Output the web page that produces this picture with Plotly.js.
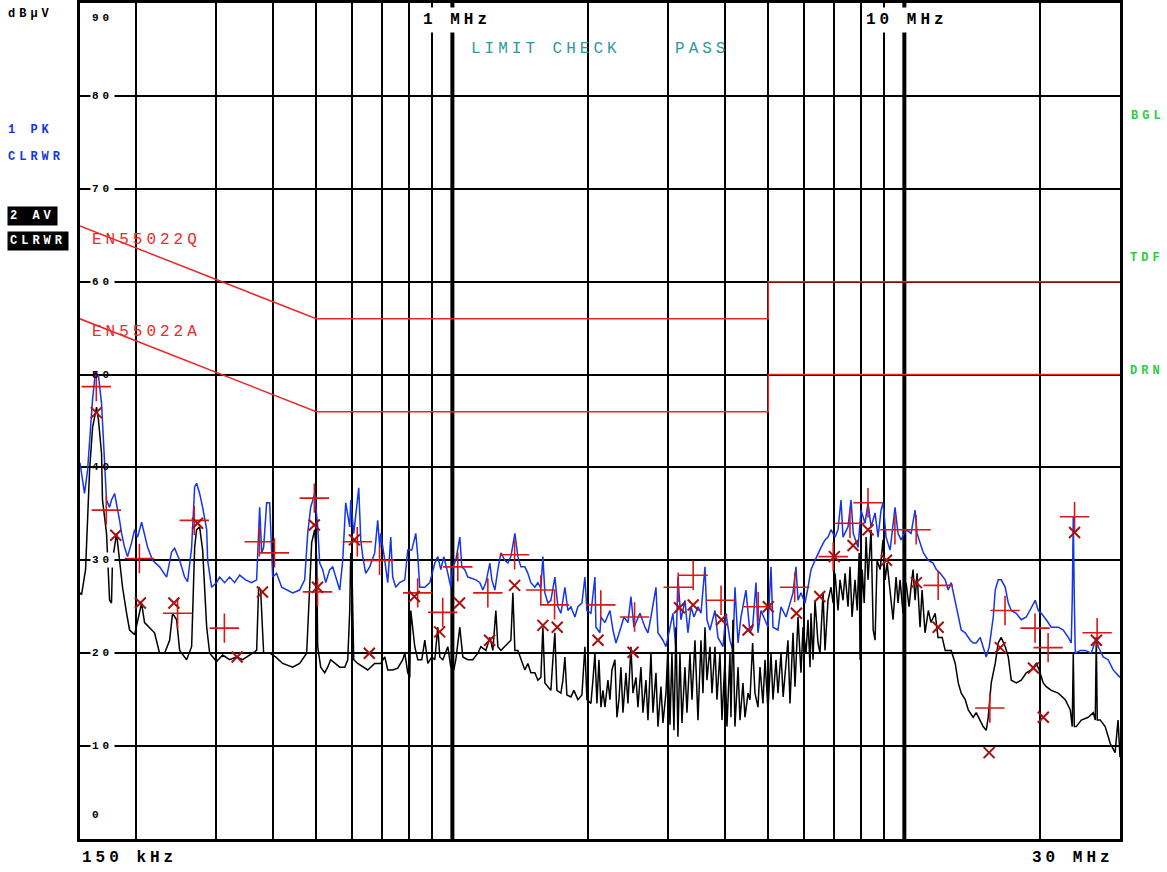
<!DOCTYPE html>
<html>
<head>
<meta charset="utf-8">
<script src="https://cdn.plot.ly/plotly-3.0.1.min.js"></script>
<style>
html,body{margin:0;padding:0;background:#fff;}
#chart{width:1167px;height:872px;}
.annotation-text{letter-spacing:4px;}
</style>
</head>
<body>
<div id="chart"></div>
<script>
// ---------- DATA (frequency in MHz, level in dBuV) ----------
const limitFreq = [0.15, 0.5, 5, 5, 30];
const limitQPLevel = [66, 56, 56, 60, 60];   // EN55022Q
const limitAVLevel = [56, 46, 46, 50, 50];   // EN55022A

const yTickValues = [90, 80, 70, 60, 50, 40, 30, 20, 10, 0];
const xGridFreq = [0.2,0.3,0.4,0.5,0.6,0.7,0.8,0.9,2,3,4,5,6,7,8,9,20];
const xMajorFreq = [1, 10];

// Trace 1: peak detector (PK, blue)
const pkPoints = [
[0.150,40.5],[0.1512,39.2],[0.1535,37.2],[0.1559,39.7],[0.1575,42.9],[0.1599,47.3],[0.1623,50.3],[0.1648,49.9],[0.1674,46.9],[0.1700,40.8],
[0.1717,36.5],[0.1744,35.7],[0.1761,36.5],[0.1789,37.2],[0.1807,36.2],[0.1835,34.3],[0.1854,32.9],[0.1882,31.4],[0.1911,30.4],[0.1951,31.9],
[0.1981,33.3],[0.2011,32.5],[0.2053,34.1],[0.2084,32.7],[0.2117,31.4],[0.2171,30.0],[0.2250,29.3],[0.2332,28.2],[0.2392,30.9],[0.2429,31.3],
[0.2492,30.0],[0.2556,28.2],[0.2595,27.7],[0.2649,31.4],[0.2690,37.9],[0.2717,38.3],[0.2759,37.2],[0.2802,35.7],[0.2860,33.3],[0.2874,30.0],
[0.2933,27.1],[0.3009,27.6],[0.3055,28.2],[0.3134,27.6],[0.3215,28.2],[0.3297,27.6],[0.3383,28.4],[0.3488,27.9],[0.3596,27.6],[0.3689,27.9],
[0.3746,35.7],[0.3785,30.8],[0.3823,31.4],[0.3882,36.2],[0.3942,36.2],[0.4003,28.2],[0.4084,28.6],[0.4191,27.1],[0.4299,26.8],[0.4432,26.5],
[0.4593,26.8],[0.4712,27.9],[0.4785,32.9],[0.4858,35.7],[0.4959,37.2],[0.5035,33.6],[0.5087,29.7],[0.5165,29.0],[0.5245,27.6],[0.5353,29.0],
[0.5435,29.3],[0.5519,28.2],[0.5633,26.8],[0.5720,30.0],[0.5807,36.2],[0.5928,33.6],[0.5958,36.5],[0.6050,32.9],[0.6112,34.7],[0.6206,37.8],
[0.6270,32.2],[0.6334,30.4],[0.6431,28.6],[0.6563,29.3],[0.6731,30.8],[0.6766,32.2],[0.6835,34.3],[0.6907,31.4],[0.6942,32.9],[0.7086,30.0],
[0.7194,27.6],[0.7305,32.5],[0.7378,28.2],[0.7494,27.1],[0.7648,27.6],[0.7847,27.9],[0.7967,31.1],[0.8131,31.1],[0.8299,32.9],[0.8384,30.4],
[0.8470,27.1],[0.8689,27.1],[0.8913,27.6],[0.9143,29.7],[0.9284,30.4],[0.9428,29.0],[0.9573,30.4],[0.9770,28.6],[0.9920,27.1],[1.0022,29.3],
[1.0176,30.0],[1.0386,32.5],[1.0493,29.3],[1.0655,29.0],[1.0817,28.2],[1.0986,28.1],[1.1270,27.9],[1.1502,27.6],[1.1679,26.8],[1.1859,27.6],
[1.2104,29.7],[1.2227,27.9],[1.2416,26.8],[1.2607,29.0],[1.2802,30.8],[1.3065,30.0],[1.3267,29.7],[1.3472,30.4],[1.3749,32.9],[1.3961,30.4],
[1.4177,29.3],[1.4468,29.3],[1.4690,28.6],[1.4915,27.6],[1.5222,27.1],[1.5458,27.6],[1.5696,27.0],[1.5857,30.4],[1.6021,26.5],[1.6266,25.4],
[1.6516,25.7],[1.6857,28.2],[1.7118,25.0],[1.7381,24.3],[1.7739,27.1],[1.8012,24.6],[1.8291,25.0],[1.8668,23.9],[1.8953,25.0],[1.9346,25.4],
[1.9644,28.2],[1.9845,24.6],[2.0255,24.3],[2.0673,28.2],[2.0778,22.8],[2.1208,22.2],[2.1316,23.9],[2.1754,23.3],[2.2316,24.6],[2.2661,22.5],
[2.3009,21.1],[2.3603,22.8],[2.3964,23.9],[2.4460,23.3],[2.4836,26.1],[2.5218,22.8],[2.6001,24.3],[2.6672,22.8],[2.7083,22.2],[2.7501,23.9],
[2.8211,27.1],[2.8500,22.2],[2.9234,21.4],[2.9684,20.7],[3.0296,22.8],[3.076,24.3],[3.1235,20.3],[3.155,28.2],[3.2042,23.6],[3.2702,25.7],
[3.320,22.2],[3.3718,25.0],[3.4250,23.9],[3.4943,25.0],[3.5481,24.3],[3.6212,29.3],[3.6584,23.6],[3.7146,22.5],[3.8105,24.6],[3.869,21.7],
[3.969,20.7],[4.0302,24.3],[4.1130,21.4],[4.176,20.3],[4.2191,27.1],[4.2864,21.1],[4.3502,23.9],[4.462,26.8],[4.5544,22.2],[4.616,22.8],
[4.6959,27.6],[4.744,22.2],[4.8171,24.6],[4.9166,23.6],[4.9920,22.8],[5.0691,29.3],[5.121,22.8],[5.2532,22.5],[5.334,25.0],[5.4719,23.9],
[5.5845,25.4],[5.6705,26.5],[5.758,29.3],[5.8167,25.7],[5.906,26.5],[6.0285,25.4],[6.1212,27.1],[6.215,29.0],[6.3434,30.0],[6.441,30.8],
[6.5405,31.4],[6.6753,32.2],[6.7778,32.5],[6.882,33.3],[7.0239,32.5],[7.132,33.3],[7.2422,36.5],[7.3164,32.5],[7.5053,33.6],[7.621,36.5],
[7.7082,32.9],[7.897,31.4],[8.020,35.4],[8.1854,34.0],[8.3112,36.2],[8.4396,33.6],[8.615,35.1],[8.7460,32.5],[8.880,35.4],[8.971,36.2],
[9.110,32.5],[9.2976,31.1],[9.397,32.9],[9.5374,35.7],[9.684,32.9],[9.834,32.2],[10.088,33.3],[10.347,32.9],[10.561,35.4],[10.67,32.9],
[10.833,31.9],[11.02,30.8],[11.30,30.0],[11.575,29.7],[11.77,29.0],[12.006,28.6],[12.314,27.9],[12.50,26.8],[12.697,27.6],[12.959,25.4],
[13.16,23.9],[13.361,22.5],[13.636,22.2],[13.988,21.4],[14.20,21.1],[14.421,21.1],[14.718,21.7],[14.94,20.7],[15.175,19.6],[15.41,20.7],
[15.73,23.9],[15.888,26.8],[16.13,27.9],[16.382,27.9],[16.720,27.1],[16.98,25.4],[17.240,24.6],[17.685,24.3],[18.141,23.6],[18.609,23.9],
[19.089,25.0],[19.482,25.7],[19.78,24.6],[20.087,24.3],[20.605,23.6],[21.137,22.8],[21.905,22.8],[22.470,22.5],[23.050,21.7],[23.40,21.1],
[23.52,25.7],[23.645,34.7],[23.77,25.7],[23.89,20.0],[24.50,20.3],[25.13,20.3],[25.92,20.0],[26.587,21.7],[26.86,20.7],[27.54,19.6],
[28.24,19.3],[28.97,18.2],[30.0,17.4]
];

// Trace 2: average detector (AV, black)
const avPoints = [
[0.150,26.5],[0.1512,26.3],[0.1543,29.0],[0.1575,39.7],[0.1599,44.3],[0.1632,46.5],[0.1648,45.1],[0.1674,41.5],[0.1682,36.5],[0.1717,32.9],
[0.1744,25.7],[0.1761,25.4],[0.1770,30.0],[0.1807,32.9],[0.1835,30.0],[0.1863,27.1],[0.1902,24.3],[0.1931,22.5],[0.1981,22.0],[0.2011,23.6],
[0.2053,25.4],[0.2084,23.3],[0.2138,22.8],[0.2193,22.2],[0.2250,20.0],[0.2308,20.0],[0.2368,21.4],[0.2404,24.3],[0.2454,23.6],[0.2492,20.3],
[0.2582,19.3],[0.2649,20.7],[0.2690,31.4],[0.2717,33.3],[0.2759,33.6],[0.2802,31.1],[0.2860,22.8],[0.2904,20.0],[0.3009,19.1],[0.3102,19.8],
[0.3215,19.3],[0.3331,19.6],[0.3435,19.3],[0.3560,19.8],[0.3689,20.3],[0.3727,27.1],[0.3765,26.8],[0.3823,20.0],[0.3942,20.0],[0.4064,19.6],
[0.4212,18.9],[0.4432,18.5],[0.4593,18.9],[0.4760,20.0],[0.4834,26.5],[0.4883,31.9],[0.4959,33.3],[0.5010,30.0],[0.5035,20.7],[0.5113,18.5],
[0.5218,17.9],[0.5298,18.5],[0.5380,19.3],[0.5491,18.9],[0.5633,18.5],[0.5778,18.5],[0.5868,19.3],[0.5928,24.6],[0.5958,30.8],[0.5990,30.0],
[0.6050,19.3],[0.6174,18.9],[0.6334,18.5],[0.6497,18.2],[0.6731,18.9],[0.6942,18.9],[0.7086,19.6],[0.7194,18.2],[0.7378,18.2],[0.7570,18.4],
[0.7765,19.3],[0.7847,20.0],[0.7967,17.9],[0.8049,17.4],[0.8090,24.6],[0.8173,22.8],[0.8257,20.7],[0.8384,19.3],[0.8557,19.3],[0.8689,21.4],
[0.8823,18.9],[0.9005,19.6],[0.9143,19.3],[0.9284,22.8],[0.9380,19.6],[0.9525,19.3],[0.9770,20.7],[0.9920,18.5],[1.0072,18.2],[1.0176,19.3],
[1.0386,22.8],[1.0546,19.6],[1.0817,19.3],[1.1099,19.3],[1.1385,20.0],[1.1560,20.7],[1.1859,20.3],[1.2104,21.7],[1.2290,20.3],[1.2479,24.6],
[1.2607,20.7],[1.2802,20.3],[1.3065,20.7],[1.3267,21.1],[1.3472,21.4],[1.3610,26.5],[1.3749,20.3],[1.3961,20.3],[1.4177,19.3],[1.4468,18.2],
[1.4690,18.9],[1.4915,17.9],[1.5222,17.9],[1.5458,17.1],[1.5696,17.4],[1.5857,22.8],[1.6021,16.8],[1.6266,16.4],[1.6516,16.0],[1.6686,19.3],
[1.6857,22.2],[1.7031,16.0],[1.7381,15.7],[1.7559,17.1],[1.7739,19.6],[1.7921,15.5],[1.8291,15.3],[1.8571,16.0],[1.8953,15.0],[1.9346,15.5],
[1.9644,20.7],[1.9845,15.0],[2.0255,14.6],[2.0463,17.1],[2.0673,20.0],[2.0886,14.6],[2.1099,19.3],[2.1316,14.2],[2.1533,16.0],[2.1754,14.2],
[2.2089,17.1],[2.2316,15.0],[2.2544,18.2],[2.2891,19.3],[2.3126,13.1],[2.3363,15.0],[2.3603,18.5],[2.3844,13.6],[2.4212,17.9],[2.4460,14.6],
[2.4836,20.7],[2.5090,15.7],[2.5476,17.4],[2.5738,14.2],[2.6134,18.5],[2.6400,13.6],[2.6808,17.1],[2.7083,12.8],[2.7501,20.0],[2.7782,13.6],
[2.8211,17.9],[2.8500,12.1],[2.8938,16.4],[2.9234,12.5],[2.9684,15.7],[2.9986,20.7],[3.0296,12.3],[3.0606,20.0],[3.092,11.7],[3.1235,22.8],
[3.155,11.0],[3.1878,20.0],[3.2205,12.5],[3.2702,18.5],[3.3038,13.6],[3.3548,20.0],[3.3891,15.0],[3.4415,21.4],[3.4943,12.8],[3.5481,21.4],
[3.5846,15.7],[3.6212,22.8],[3.6584,17.1],[3.7146,20.7],[3.7527,15.7],[3.8105,20.7],[3.8494,15.0],[3.9087,20.0],[3.9488,12.8],[4.0095,19.3],
[4.0506,12.1],[4.1130,20.0],[4.1339,13.1],[4.176,23.6],[4.2191,12.1],[4.2864,18.5],[4.3280,12.8],[4.3948,16.8],[4.4397,13.1],[4.5102,15.7],
[4.5544,15.0],[4.616,21.1],[4.672,15.7],[4.744,14.2],[4.7926,18.5],[4.866,14.6],[4.9166,19.3],[4.9920,13.9],[5.0691,20.0],[5.121,15.0],
[5.2004,19.3],[5.2532,15.7],[5.334,20.0],[5.3931,15.3],[5.4719,18.5],[5.527,21.4],[5.5845,14.6],[5.6705,22.2],[5.729,16.4],[5.8167,23.9],
[5.906,17.9],[5.9673,22.8],[6.0594,20.0],[6.1212,23.6],[6.1844,18.5],[6.215,24.3],[6.2798,19.3],[6.3434,25.7],[6.441,21.1],[6.507,20.0],
[6.608,26.5],[6.6753,20.3],[6.7778,25.7],[6.882,27.1],[6.957,25.4],[7.0239,28.6],[7.132,24.6],[7.2053,27.9],[7.3164,25.7],[7.392,28.6],
[7.5053,25.0],[7.582,29.3],[7.660,23.9],[7.7781,27.9],[7.864,24.6],[7.945,30.8],[7.9791,19.3],[8.067,29.0],[8.150,25.4],[8.228,32.5],
[8.3112,27.9],[8.4396,33.3],[8.532,22.5],[8.615,21.4],[8.702,30.0],[8.838,29.0],[8.971,32.2],[9.0637,27.9],[9.162,29.7],[9.2976,26.8],
[9.441,23.6],[9.586,28.2],[9.684,25.4],[9.783,27.9],[9.935,24.3],[10.088,27.6],[10.242,25.0],[10.347,27.1],[10.454,29.0],[10.561,25.7],
[10.67,28.6],[10.833,22.8],[10.944,26.8],[11.112,22.2],[11.30,24.6],[11.457,23.3],[11.698,24.3],[11.87,21.7],[12.125,21.7],[12.314,20.3],
[12.697,20.3],[12.959,18.9],[13.16,16.8],[13.361,15.7],[13.636,15.0],[13.85,13.9],[14.20,13.1],[14.421,13.6],[14.718,12.8],[14.94,12.1],
[15.175,11.7],[15.33,13.1],[15.567,16.8],[15.888,18.9],[16.13,21.1],[16.382,21.7],[16.720,20.7],[16.98,19.6],[17.240,17.1],[17.685,16.8],
[18.141,17.1],[18.609,17.9],[19.089,18.2],[19.58,18.9],[19.88,18.2],[20.29,16.8],[20.605,16.4],[21.137,16.0],[21.905,15.7],[22.70,15.0],
[23.29,13.9],[23.52,12.1],[23.645,20.0],[23.77,12.1],[24.01,12.1],[24.630,12.8],[25.524,13.1],[26.18,13.6],[26.45,12.8],[26.587,21.7],
[26.72,12.8],[27.13,12.8],[27.82,12.1],[28.53,10.3],[29.26,9.3],[29.7,12.8],[30.0,8.8]
];

// Final measurement markers: "+" (quasi-peak) and "x" (average)
const qpMarks = [
[0.163,48.7],[0.1715,35.4],[0.203,30.2],[0.2466,24.3],[0.2685,34.3],[0.313,22.7],[0.374,32.0],[0.404,30.8],[0.495,36.7],[0.503,26.6],
[0.616,32.0],[0.690,30.0],[0.838,26.5],[0.952,24.4],[1.028,29.3],[1.198,26.5],[1.373,30.6],[1.569,26.8],[1.683,25.2],[2.13,25.2],
[2.53,23.9],[3.16,27.1],[3.41,28.4],[3.93,25.7],[4.75,25.0],[5.72,27.1],[6.96,30.4],[7.58,34.0],[8.31,36.2],[9.53,33.3],
[10.62,33.3],[11.88,27.3],[15.46,14.1],[16.7,24.6],[19.46,22.7],[20.8,20.6],[23.8,34.7],[26.7,22.2]
];
const avMarks = [
[0.163,45.9],[0.180,32.7],[0.204,25.4],[0.242,25.4],[0.273,34.0],[0.334,19.6],[0.380,26.6],[0.495,33.8],[0.503,27.1],[0.607,32.2],
[0.655,20.0],[0.824,26.1],[0.937,22.3],[1.037,25.4],[1.209,21.4],[1.373,27.3],[1.586,23.0],[1.706,22.8],[2.10,21.4],[2.51,20.1],
[3.18,24.9],[3.41,25.2],[3.94,23.6],[4.51,22.5],[5.0,25.0],[5.77,24.3],[6.50,26.1],[7.0,30.4],[7.70,31.6],[8.31,33.3],
[9.13,30.0],[10.63,27.6],[11.88,22.8],[15.4,9.3],[16.3,20.6],[19.3,18.4],[20.3,13.1],[23.8,33.0],[26.6,21.4]
];

// ---------- LAYOUT ----------
const W = 1167, H = 872, ML = 80, MR = 47, MT = 3, MB = 33;
const PW = W - ML - MR, PH = H - MT - MB;
const px = x => (x - ML) / PW;
const py = y => (H - MB - y) / PH;
const MONO = 'Liberation Mono, DejaVu Sans Mono, monospace';

function label(text, x, y, color, size, weight, extra) {
  return Object.assign({
    text: text, xref: 'paper', yref: 'paper', x: px(x), y: py(y),
    xanchor: 'left', yanchor: 'middle', showarrow: false,
    font: {family: MONO, size: size, color: color, weight: weight}
  }, extra || {});
}

const col = (arr, i) => arr.map(p => p[i]);
const NB = '\u00a0';

const traces = [
  {x: limitFreq, y: limitQPLevel, mode: 'lines', line: {color: '#e82828', width: 1.5}, hoverinfo: 'skip'},
  {x: limitFreq, y: limitAVLevel, mode: 'lines', line: {color: '#e82828', width: 1.5}, hoverinfo: 'skip'},
  {x: col(pkPoints, 0), y: col(pkPoints, 1), mode: 'lines', line: {color: '#1535e8', width: 1.5}},
  {x: col(avPoints, 0), y: col(avPoints, 1), mode: 'lines', line: {color: '#000000', width: 1.5}},
  {x: col(qpMarks, 0), y: col(qpMarks, 1), mode: 'markers',
   marker: {symbol: 'cross-thin-open', size: 21, color: '#d81818', line: {color: '#d81818', width: 1.6}}},
  {x: col(avMarks, 0), y: col(avMarks, 1), mode: 'markers',
   marker: {symbol: 'x-thin-open', size: 11, color: '#a81010', line: {color: '#a81010', width: 2}}}
];

const annotations = [
  label('dB\u00b5V', 6, 14, '#000', 12, 'bold'),
  label('1 PK', 6, 130, '#1535e8', 12, 'bold'),
  label('CLRWR', 6, 157, '#1535e8', 12, 'bold'),
  label('2 AV', 7, 216, '#fff', 12, 'bold', {bgcolor: '#000', borderpad: 2}),
  label('CLRWR', 7, 241, '#fff', 12, 'bold', {bgcolor: '#000', borderpad: 2}),
  label('BGL', 1129, 116, '#2ecc40', 12, 'bold'),
  label('TDF', 1128, 258, '#2ecc40', 12, 'bold'),
  label('DRN', 1128, 371, '#2ecc40', 12, 'bold'),
  label('EN55022Q', 90, 240, '#ee2a2a', 16, 'normal'),
  label('EN55022A', 90, 332, '#ee2a2a', 16, 'normal'),
  label('LIMIT CHECK' + NB + NB + NB + NB + 'PASS', 469, 49, '#2a9a9a', 16, 'normal'),
  label('1 MHz', 419, 20, '#000', 16, 'bold', {bgcolor: '#fff', borderpad: 3}),
  label('10 MHz', 862, 20, '#000', 16, 'bold', {bgcolor: '#fff', borderpad: 3}),
  label('150 kHz', 80, 858, '#000', 16, 'bold'),
  label('30 MHz', 1030, 858, '#000', 16, 'bold')
];
const yLabelPos = {90: 18, 80: null, 70: null, 60: null, 50: null, 40: null, 30: null, 20: null, 10: null, 0: 815};
yTickValues.forEach(v => {
  const yPix = yLabelPos[v] !== null ? yLabelPos[v] : (H - MB - v / 90 * PH);
  const withBg = (v !== 90 && v !== 0 && v !== 50 && v !== 40);
  annotations.push(label(String(v), 90, yPix, '#000', 11, 'bold', withBg ? {bgcolor: '#fff', borderpad: 1} : {}));
});

const shapes = xMajorFreq.map(f => ({
  type: 'line', xref: 'x', yref: 'paper', x0: f, x1: f, y0: 0, y1: 1,
  line: {color: '#000', width: 4}, layer: 'below'
}));

const axisCommon = {
  showgrid: true, gridcolor: '#000', gridwidth: 2, zeroline: false,
  showline: true, linecolor: '#000', linewidth: 3, mirror: true,
  ticks: '', showticklabels: false, fixedrange: true
};

const layout = {
  width: W, height: H,
  margin: {l: ML, r: MR, t: MT, b: MB},
  paper_bgcolor: '#fff', plot_bgcolor: '#fff',
  showlegend: false,
  xaxis: Object.assign({}, axisCommon, {type: 'log', range: [Math.log10(0.15), Math.log10(30)],
    tickmode: 'array', tickvals: xGridFreq}),
  yaxis: Object.assign({}, axisCommon, {range: [0, 90], tickmode: 'array',
    tickvals: yTickValues.filter(v => v > 0 && v < 90)}),
  annotations: annotations,
  shapes: shapes,
  font: {family: MONO}
};

Plotly.newPlot('chart', traces, layout, {staticPlot: true, displayModeBar: false});
</script>
</body>
</html>
